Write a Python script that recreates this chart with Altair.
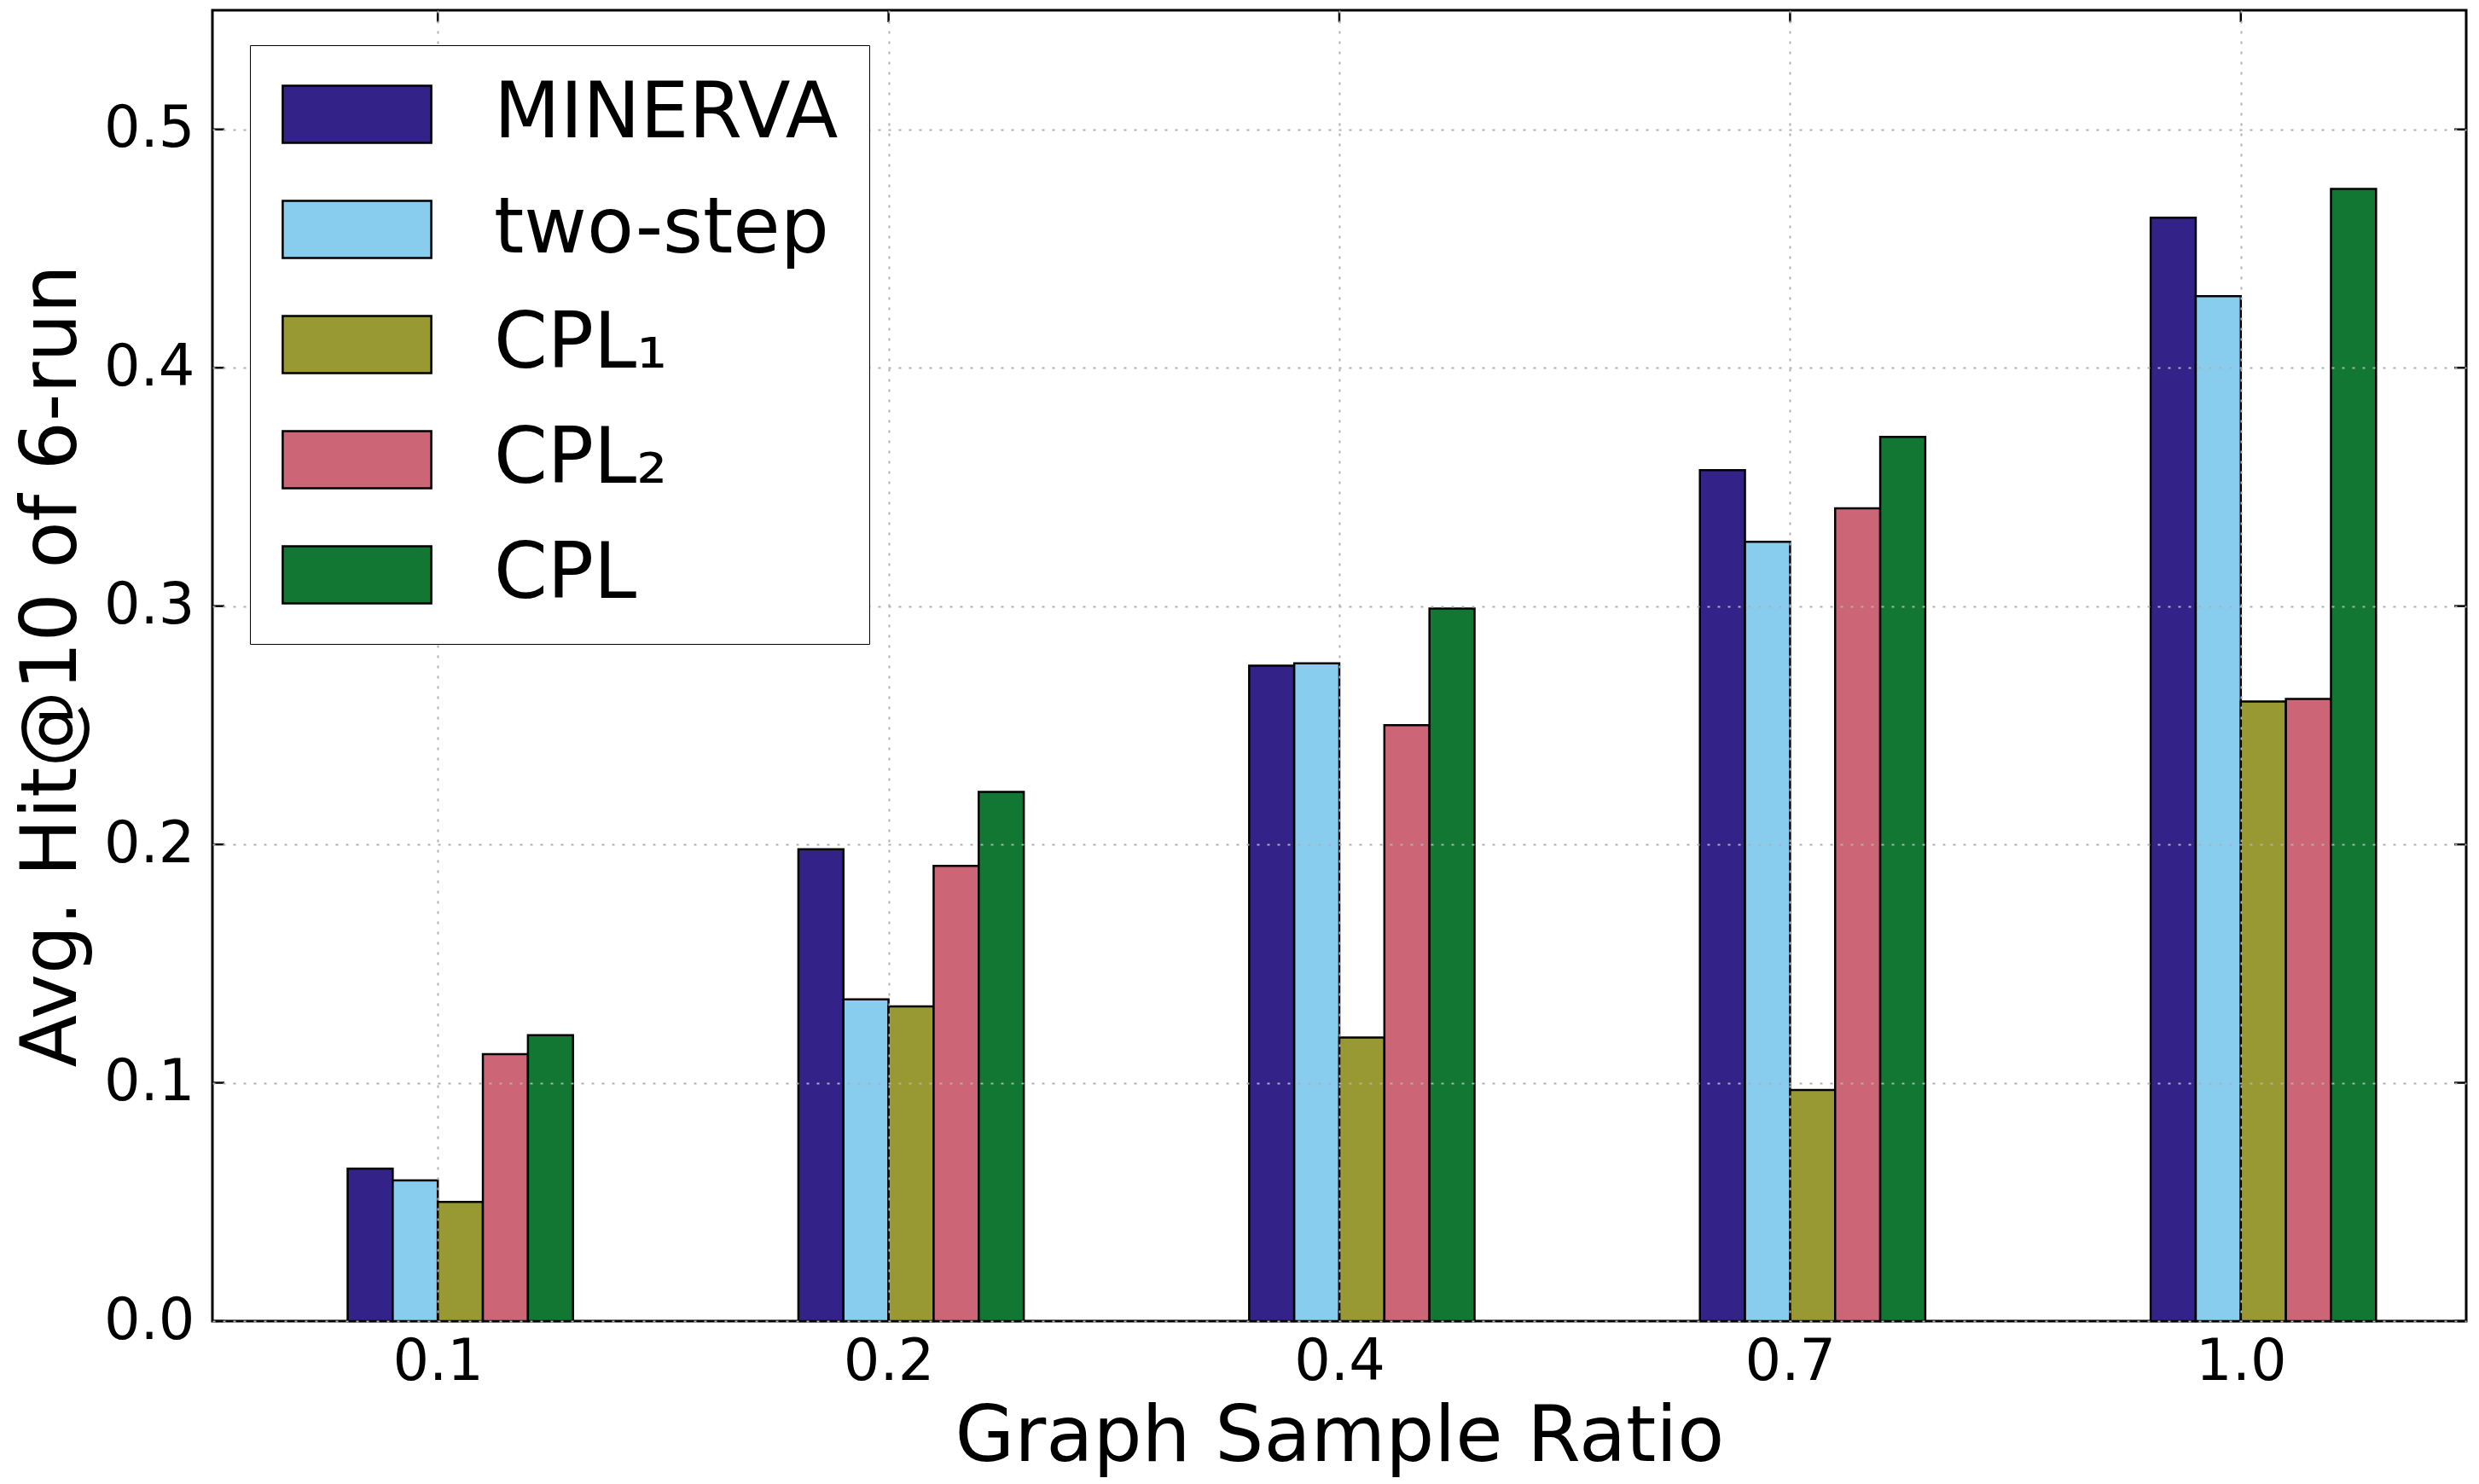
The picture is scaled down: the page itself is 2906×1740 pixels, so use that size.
import altair as alt
import pandas as pd

# Graph sample ratios (x categories) and methods (series)
ratios = ["0.1", "0.2", "0.4", "0.7", "1.0"]
methods = ["MINERVA", "two-step", "CPL\u2081", "CPL\u2082", "CPL"]
colors = ["#332288", "#88CCEE", "#999933", "#CC6677", "#117733"]

# Avg. Hit@10 of 6 runs, one list per method
minerva = [0.064, 0.198, 0.275, 0.357, 0.463]
two_step = [0.059, 0.135, 0.276, 0.327, 0.430]
cpl_1 = [0.050, 0.132, 0.119, 0.097, 0.260]
cpl_2 = [0.112, 0.191, 0.250, 0.341, 0.261]
cpl = [0.120, 0.222, 0.299, 0.371, 0.475]

y_ticks = [0.0, 0.1, 0.2, 0.3, 0.4, 0.5]

series = [minerva, two_step, cpl_1, cpl_2, cpl]
rows = []
for m, vals in zip(methods, series):
    for r, v in zip(ratios, vals):
        rows.append({"ratio": r, "method": m, "value": v})
df = pd.DataFrame(rows)

W, H = 2642, 1537
FONT = "DejaVu Sans"
GRID = "#b0b0b0"
# ticks sit at the left edge of the third bar of each group
STEP = W / 5
TICK_SHIFT = -0.05 * STEP

x_scale = alt.Scale(type="band", domain=ratios, paddingInner=0.5,
                    paddingOuter=0.25, align=0.6)
y_scale = alt.Scale(domain=[0, 0.55], nice=False, zero=True)

bars = alt.Chart(df).mark_bar(stroke="black", strokeWidth=2.5).encode(
    x=alt.X("ratio:N", sort=ratios, scale=x_scale,
            axis=alt.Axis(title="Graph Sample Ratio", labelAngle=0,
                          tickOffset=TICK_SHIFT, grid=True, gridColor=GRID,
                          gridDash=[3, 9], gridWidth=2, ticks=False,
                          domain=False, labelFont=FONT, labelFontSize=67,
                          labelColor="black", labelPadding=15,
                          titleFont=FONT, titleFontSize=90,
                          titleFontWeight="normal", titleColor="black",
                          titlePadding=11, zindex=1)),
    xOffset=alt.XOffset("method:N", sort=methods,
                        scale=alt.Scale(domain=methods, paddingInner=0,
                                        paddingOuter=0)),
    y=alt.Y("value:Q", scale=y_scale,
            axis=alt.Axis(title="Avg. Hit@10 of 6-run", values=y_ticks,
                          format=".1f", grid=True, gridColor=GRID,
                          gridDash=[3, 9], gridWidth=2, ticks=False,
                          domain=False, labelFont=FONT, labelFontSize=67,
                          labelColor="black", labelPadding=21,
                          titleFont=FONT, titleFontSize=90,
                          titleFontWeight="normal", titleColor="black",
                          titlePadding=14, zindex=1)),
    color=alt.Color("method:N", sort=methods,
                    scale=alt.Scale(domain=methods, range=colors),
                    legend=alt.Legend(
                        title=None, orient="none", legendX=44, legendY=41,
                        fillColor="white", strokeColor="black",
                        padding=36, rowPadding=45,
                        symbolType="M-2.6,-1H2.6V1H-2.6Z",
                        symbolSize=4489, symbolStrokeColor="black",
                        symbolStrokeWidth=2.5, symbolOpacity=1,
                        symbolOffset=44.5, labelOffset=115.5,
                        labelFont=FONT, labelFontSize=90,
                        labelColor="black", labelLimit=1000, zindex=2)),
)

# inward tick marks on all four sides of the frame
ytick_df = pd.DataFrame({"v": y_ticks})
ytick_left = alt.Chart(ytick_df).mark_rule(color="black", strokeWidth=2.5).encode(
    y=alt.Y("v:Q", scale=y_scale), x=alt.value(0), x2=alt.value(14))
ytick_right = alt.Chart(ytick_df).mark_rule(color="black", strokeWidth=2.5).encode(
    y=alt.Y("v:Q", scale=y_scale), x=alt.value(W - 14), x2=alt.value(W))

xtick_df = pd.DataFrame({"ratio": ratios})
xtick_top = alt.Chart(xtick_df).mark_rule(
    color="black", strokeWidth=2.5, xOffset=TICK_SHIFT).encode(
    x=alt.X("ratio:N", sort=ratios, scale=x_scale),
    y=alt.value(0), y2=alt.value(14))
xtick_bottom = alt.Chart(xtick_df).mark_rule(
    color="black", strokeWidth=2.5, xOffset=TICK_SHIFT).encode(
    x=alt.X("ratio:N", sort=ratios, scale=x_scale),
    y=alt.value(H - 14), y2=alt.value(H))

chart = alt.layer(bars, ytick_left, ytick_right, xtick_top, xtick_bottom).properties(
    width=W, height=H,
    autosize=alt.AutoSizeParams(type="none"),
    padding={"left": 249, "top": 12, "right": 15, "bottom": 191},
    background="white",
).configure_view(
    stroke="black", strokeWidth=3
)

chart.save("out.html", embed_options={"renderer": "svg", "actions": False})
